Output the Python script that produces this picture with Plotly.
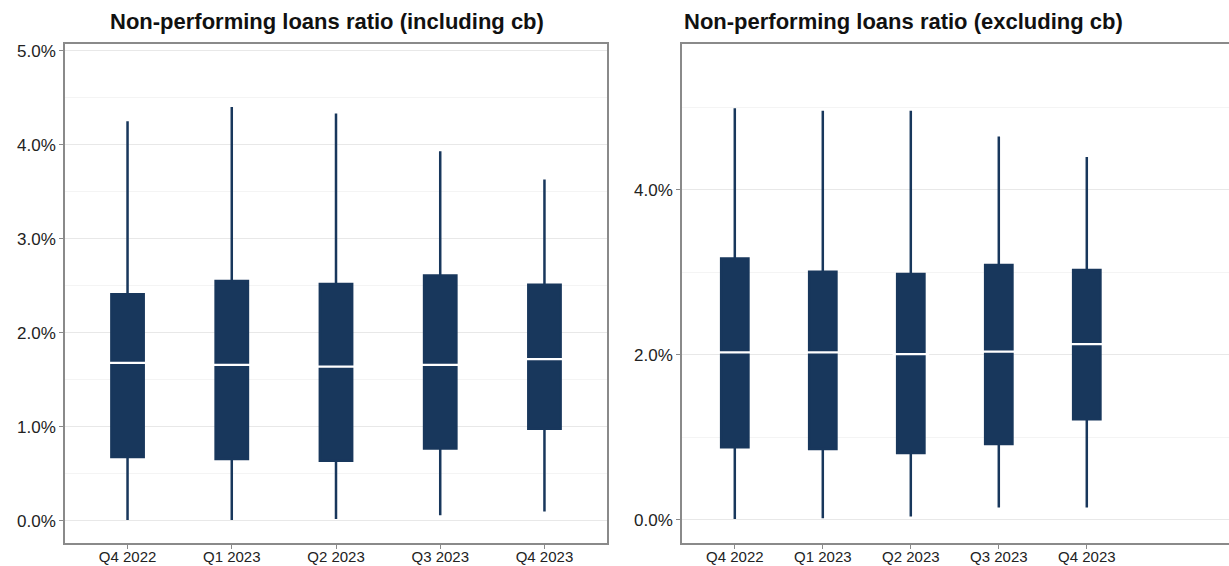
import plotly.graph_objects as go

categories = ["Q4 2022", "Q1 2023", "Q2 2023", "Q3 2023", "Q4 2023"]

# Including cb (values in %)
inc_lower = [0.01, 0.01, 0.02, 0.06, 0.10]
inc_q1 = [0.68, 0.66, 0.64, 0.77, 0.98]
inc_median = [1.68, 1.66, 1.64, 1.66, 1.72]
inc_q3 = [2.41, 2.55, 2.52, 2.61, 2.51]
inc_upper = [4.25, 4.40, 4.33, 3.93, 3.63]

# Excluding cb (values in %)
exc_lower = [0.01, 0.02, 0.04, 0.15, 0.15]
exc_q1 = [0.88, 0.86, 0.81, 0.92, 1.22]
exc_median = [2.03, 2.03, 2.01, 2.04, 2.13]
exc_q3 = [3.17, 3.01, 2.98, 3.09, 3.03]
exc_upper = [4.99, 4.96, 4.96, 4.65, 4.40]

titles = ["Non-performing loans ratio (including cb)",
          "Non-performing loans ratio (excluding cb)"]

NAVY = "#18375C"
W, H = 1229, 566
FONT = "Arial, Liberation Sans, sans-serif"

fig = go.Figure()

def add_panel(xa, ya, lower, q1, med, q3, upper, msize):
    fig.add_trace(go.Box(
        x=categories, q1=q1, median=med, q3=q3,
        lowerfence=lower, upperfence=upper,
        fillcolor=NAVY, line=dict(color=NAVY, width=2.5),
        whiskerwidth=0, width=0.31, boxpoints=False,
        xaxis=xa, yaxis=ya, showlegend=False, hoverinfo="skip"))
    fig.add_trace(go.Scatter(
        x=categories, y=med, mode="markers",
        marker=dict(symbol="line-ew", size=msize,
                    line=dict(color="white", width=2.2)),
        xaxis=xa, yaxis=ya, showlegend=False, hoverinfo="skip"))

add_panel("x", "y", inc_lower, inc_q1, inc_median, inc_q3, inc_upper, 31)
add_panel("x2", "y2", exc_lower, exc_q1, exc_median, exc_q3, exc_upper, 26)

ytop = 1 - 44 / H
ybot = 1 - 543 / H

axis_common = dict(
    showline=True, linecolor="#8A8A8A", linewidth=1.5,
    ticks="outside", ticklen=4, tickcolor="#8A8A8A", tickwidth=1,
    zeroline=False, automargin=False,
)
yfont = dict(family=FONT, size=17, color="#222222")
xfont = dict(family=FONT, size=15, color="#222222")

fig.update_layout(
    width=W, height=H,
    margin=dict(l=0, r=0, t=0, b=0, autoexpand=False),
    paper_bgcolor="white", plot_bgcolor="white",
    font=dict(family=FONT),
    xaxis=dict(domain=[65 / W, 607 / W], range=[-0.6, 4.6], anchor="y",
               mirror=True, showgrid=False, tickfont=xfont,
               ticklabelstandoff=-5, **axis_common),
    yaxis=dict(domain=[ybot, ytop], range=[-0.234, 5.07], anchor="x",
               mirror=True, dtick=1, tick0=0, tickformat=".1f", ticksuffix="%",
               showgrid=True, gridcolor="#E8E8E8", gridwidth=1, tickfont=yfont,
               minor=dict(dtick=0.5, tick0=0, showgrid=True, gridcolor="#F4F4F4", ticks=""),
               **axis_common),
    xaxis2=dict(domain=[682 / W, 1.0], range=[-0.6, 5.616], anchor="y2",
                mirror=True, showgrid=False, tickfont=xfont,
                ticklabelstandoff=-5, **axis_common),
    yaxis2=dict(domain=[ybot, ytop], range=[-0.28, 5.77], anchor="x2",
                mirror=False, dtick=2, tick0=0, tickformat=".1f", ticksuffix="%",
                showgrid=True, gridcolor="#E8E8E8", gridwidth=1, tickfont=yfont,
                minor=dict(dtick=1, tick0=0, showgrid=True, gridcolor="#F4F4F4", ticks=""),
                **axis_common),
)

for xc, t in zip([327, 903], titles):
    fig.add_annotation(
        x=xc / W, y=1 - 21 / H, xref="paper", yref="paper",
        text="<b>" + t + "</b>", showarrow=False,
        font=dict(family=FONT, size=22, color="#111111"),
        xanchor="center", yanchor="middle")

fig.write_html("out.html", config={"displayModeBar": False},
               post_script="document.body.style.margin='0px';document.body.style.overflow='hidden';")
